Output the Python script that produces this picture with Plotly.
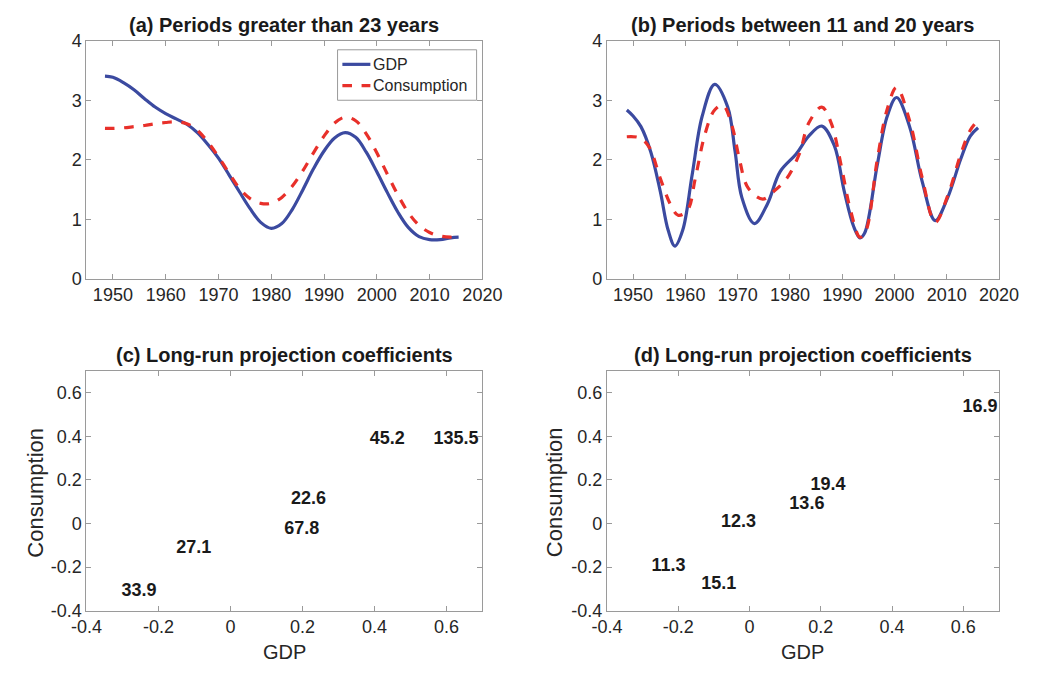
import plotly.graph_objects as go

# (a) low-frequency components, periods > 23 years
years_a = [1948.5, 1950, 1952, 1954, 1956, 1958, 1960, 1962, 1964, 1966, 1968, 1970,
           1972, 1974, 1976, 1978, 1980, 1982, 1984, 1986, 1988, 1990, 1992, 1994,
           1996, 1998, 2000, 2002, 2004, 2006, 2008, 2010, 2012, 2014, 2015.5]
gdp_a = [3.41, 3.39, 3.30, 3.18, 3.03, 2.89, 2.78, 2.69, 2.60, 2.46, 2.26, 2.03,
         1.75, 1.46, 1.18, 0.95, 0.85, 0.93, 1.17, 1.50, 1.85, 2.15, 2.37, 2.46,
         2.38, 2.13, 1.80, 1.45, 1.12, 0.86, 0.71, 0.66, 0.66, 0.69, 0.70]
cons_a = [2.53, 2.53, 2.54, 2.56, 2.58, 2.61, 2.63, 2.64, 2.61, 2.50, 2.30, 2.05,
          1.78, 1.52, 1.35, 1.27, 1.27, 1.37, 1.56, 1.82, 2.12, 2.40, 2.62, 2.72,
          2.66, 2.44, 2.12, 1.76, 1.41, 1.11, 0.90, 0.78, 0.72, 0.70, 0.70]

# (b) components with periods between 11 and 20 years
years_b_gdp = [1948.8, 1950.0, 1951.5, 1953.4, 1955.2, 1956.7, 1958.0, 1959.5, 1961.3,
               1963.2, 1965.6, 1968.1, 1969.5, 1970.8, 1973.2, 1975.7, 1978.1, 1981.2,
               1983.6, 1986.1, 1988.5, 1990.4, 1992.2, 1993.4, 1994.3, 1996.7, 1998.6,
               2000.4, 2002.9, 2005.3, 2007.8, 2010.2, 2012.7, 2014.5, 2016.0]
gdp_b = [2.84, 2.74, 2.56, 2.13, 1.47, 0.82, 0.55, 0.82, 1.75,
         2.73, 3.27, 2.89, 2.15, 1.37, 0.93, 1.26, 1.80, 2.10,
         2.40, 2.57, 2.24, 1.47, 0.88, 0.69, 0.77, 1.91, 2.73,
         3.05, 2.56, 1.64, 0.98, 1.37, 2.02, 2.40, 2.54]
years_b_cons = [1948.8, 1951.3, 1953.1, 1955.2, 1957.1, 1958.6, 1960.4, 1961.9, 1963.8,
                1965.6, 1967.2, 1969.0, 1970.2, 1972.0, 1974.8, 1976.9, 1979.4, 1981.8,
                1983.6, 1986.1, 1987.9, 1989.8, 1991.6, 1993.4, 1994.5, 1996.7, 1998.6,
                2000.4, 2002.9, 2005.3, 2007.8, 2010.2, 2012.7, 2014.5, 2016.0]
cons_b = [2.39, 2.37, 2.21, 1.69, 1.26, 1.07, 1.15, 1.69, 2.45,
          2.84, 2.92, 2.55, 2.07, 1.53, 1.34, 1.47, 1.69, 2.10,
          2.62, 2.89, 2.62, 1.91, 1.15, 0.70, 0.80, 2.00, 2.85,
          3.22, 2.66, 1.70, 0.95, 1.40, 2.10, 2.50, 2.67]

# (c) long-run projection coefficients, labelled by period in years
c_labels = ["33.9", "27.1", "67.8", "22.6", "45.2", "135.5"]
c_gdp = [-0.254, -0.102, 0.198, 0.217, 0.436, 0.627]
c_cons = [-0.311, -0.114, -0.029, 0.109, 0.387, 0.387]

# (d) long-run projection coefficients, labelled by period in years
d_labels = ["16.9", "19.4", "13.6", "12.3", "11.3", "15.1"]
d_gdp = [0.647, 0.220, 0.161, -0.031, -0.227, -0.086]
d_cons = [0.533, 0.176, 0.087, 0.005, -0.199, -0.278]

year_ticks = [1950, 1960, 1970, 1980, 1990, 2000, 2010, 2020]
level_ticks = [0, 1, 2, 3, 4]
coef_ticks = [-0.4, -0.2, 0, 0.2, 0.4, 0.6]
coef_ticktext = ["-0.4", "-0.2", "0", "0.2", "0.4", "0.6"]
series_names = ["GDP", "Consumption"]

BLUE = "#3b4aa0"
RED = "#e8302a"
FONT = "Liberation Sans, Arial, sans-serif"
TXT = "#262626"
AXIS = "#9a9a9a"
W, H = 1047, 677

fig = go.Figure()

fig.add_trace(go.Scatter(x=years_a, y=gdp_a, mode="lines", name=series_names[0],
                         line=dict(color=BLUE, width=3.2, shape="spline"),
                         xaxis="x", yaxis="y"))
fig.add_trace(go.Scatter(x=years_a, y=cons_a, mode="lines", name=series_names[1],
                         line=dict(color=RED, width=3.2, dash="dash", shape="spline"),
                         xaxis="x", yaxis="y"))
fig.add_trace(go.Scatter(x=years_b_gdp, y=gdp_b, mode="lines", name=series_names[0],
                         line=dict(color=BLUE, width=3.2, shape="spline"),
                         xaxis="x2", yaxis="y2"))
fig.add_trace(go.Scatter(x=years_b_cons, y=cons_b, mode="lines", name=series_names[1],
                         line=dict(color=RED, width=3.2, dash="dash", shape="spline"),
                         xaxis="x2", yaxis="y2"))
fig.add_trace(go.Scatter(x=c_gdp, y=c_cons, mode="text", text=c_labels,
                         textposition="middle center",
                         textfont=dict(family=FONT, size=18, color="#1a1a1a", weight="bold"),
                         xaxis="x3", yaxis="y3"))
fig.add_trace(go.Scatter(x=d_gdp, y=d_cons, mode="text", text=d_labels,
                         textposition="middle center",
                         textfont=dict(family=FONT, size=18, color="#1a1a1a", weight="bold"),
                         xaxis="x4", yaxis="y4"))

# plot-area rectangles in pixels (left, right) / (top, bottom)
left_x = (73, 483)
right_x = (612, 1018)
top_y = (32, 277)
bot_y = (372, 619)


def xdom(p):
    return [p[0] / W, p[1] / W]


def ydom(p):
    return [1 - p[1] / H, 1 - p[0] / H]


def px(x):
    return x / W


def py(y):
    return 1 - y / H


common = dict(showgrid=False, zeroline=False, showline=True, mirror="ticks",
              linecolor=AXIS, linewidth=1, ticks="inside", ticklen=5,
              tickcolor=AXIS, tickfont=dict(family=FONT, size=18, color=TXT))

fig.update_layout(
    width=W, height=H,
    margin=dict(l=0, r=0, t=0, b=0),
    paper_bgcolor="white", plot_bgcolor="white",
    font=dict(family=FONT, color=TXT),
    showlegend=False,
    xaxis=dict(domain=xdom(left_x), range=[1945, 2020], tickvals=year_ticks,
               anchor="y", **common),
    yaxis=dict(domain=ydom(top_y), range=[0, 4], tickvals=level_ticks,
               anchor="x", **common),
    xaxis2=dict(domain=xdom(right_x), range=[1945, 2020], tickvals=year_ticks,
                anchor="y2", **common),
    yaxis2=dict(domain=ydom(top_y), range=[0, 4], tickvals=level_ticks,
                anchor="x2", **common),
    xaxis3=dict(domain=xdom(left_x), range=[-0.4, 0.7], tickvals=coef_ticks,
                ticktext=coef_ticktext, anchor="y3", **common),
    yaxis3=dict(domain=ydom(bot_y), range=[-0.4, 0.7], tickvals=coef_ticks,
                ticktext=coef_ticktext, anchor="x3", **common),
    xaxis4=dict(domain=xdom(right_x), range=[-0.4, 0.7], tickvals=coef_ticks,
                ticktext=coef_ticktext, anchor="y4", **common),
    yaxis4=dict(domain=ydom(bot_y), range=[-0.4, 0.7], tickvals=coef_ticks,
                ticktext=coef_ticktext, anchor="x4", **common),
)

# compact legend box inside panel (a)
box = dict(x0=333, x1=477, y0=41, y1=93)
fig.add_shape(type="rect", xref="paper", yref="paper",
              x0=px(box["x0"]), x1=px(box["x1"]), y0=py(box["y1"]), y1=py(box["y0"]),
              line=dict(color=AXIS, width=1), fillcolor="white", layer="above")
legend_rows = [(series_names[0], BLUE, "solid", 56), (series_names[1], RED, "dash", 78)]
for name, color, dash, yrow in legend_rows:
    fig.add_shape(type="line", xref="paper", yref="paper",
                  x0=px(338), x1=px(367), y0=py(yrow), y1=py(yrow),
                  line=dict(color=color, width=3.2, dash=dash), layer="above")
    fig.add_annotation(text=name, x=px(368), y=py(yrow), xref="paper", yref="paper",
                       showarrow=False, xanchor="left", yanchor="middle",
                       font=dict(family=FONT, size=16, color=TXT))

titles = [
    ("(a) Periods greater than 23 years", sum(left_x) / 2, 15),
    ("(b) Periods between 11 and 20 years", sum(right_x) / 2, 15),
    ("(c) Long-run projection coefficients", sum(left_x) / 2, 355),
    ("(d) Long-run projection coefficients", sum(right_x) / 2, 355),
]
for text, xc, yc in titles:
    fig.add_annotation(text=f"<b>{text}</b>", x=px(xc), y=py(yc), xref="paper",
                       yref="paper", showarrow=False, xanchor="center", yanchor="middle",
                       font=dict(family=FONT, size=20, color="#1a1a1a"))

for xc in (sum(left_x) / 2, sum(right_x) / 2):
    fig.add_annotation(text="GDP", x=px(xc), y=py(662), xref="paper", yref="paper",
                       showarrow=False, xanchor="center", yanchor="middle",
                       font=dict(family=FONT, size=20, color=TXT))
for xc in (20, 558):
    fig.add_annotation(text="Consumption", x=px(xc), y=py(497), xref="paper",
                       yref="paper", showarrow=False, textangle=-90, xanchor="center",
                       yanchor="middle", font=dict(family=FONT, size=22, color=TXT))

fig.write_html("out.html")
